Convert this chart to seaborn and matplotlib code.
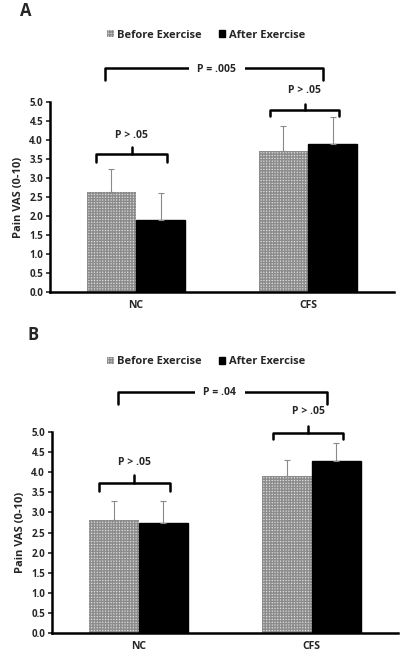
import matplotlib
matplotlib.use("Agg")
import matplotlib.pyplot as plt
import pandas as pd
import seaborn as sns

sns.set_style("white")
plt.rcParams['font.family'] = ['Open Sans', 'DejaVu Sans']
plt.rcParams['font.weight'] = 'bold'
plt.rcParams['hatch.linewidth'] = 1.0

groups = ['NC', 'CFS']
phases = ['Before Exercise', 'After Exercise']

# panel A
a_before = [2.62, 3.71]
a_after = [1.89, 3.89]
a_before_sd = [0.63, 0.67]
a_after_sd = [0.72, 0.71]

# panel B
b_before = [2.81, 3.91]
b_after = [2.73, 4.29]
b_before_sd = [0.47, 0.39]
b_after_sd = [0.55, 0.43]

a_p = ['P > .05', 'P > .05', 'P = .005']
b_p = ['P > .05', 'P > .05', 'P = .04']


def make_df(before, after):
    rows = []
    for g, v in zip(groups, before):
        rows.append({'group': g, 'phase': phases[0], 'vas': v})
    for g, v in zip(groups, after):
        rows.append({'group': g, 'phase': phases[1], 'vas': v})
    return pd.DataFrame(rows)


def bracket(ax, x0, x1, y, drop, notch=None, lw=1.8):
    ax.plot([x0, x0, x1, x1], [y - drop, y, y, y - drop], color='black',
            lw=lw, clip_on=False, solid_joinstyle='round')
    if notch is not None:
        xm = (x0 + x1) / 2
        ax.plot([xm, xm], [y, y + notch], color='black', lw=lw, clip_on=False)


def draw_panel(ax, before, after, bsd, asd, pvals, lay):
    df = make_df(before, after)
    sns.barplot(data=df, x='group', y='vas', hue='phase', order=groups,
                hue_order=phases, palette=['#b0b0b0', 'black'],
                width=0.57, gap=0, errorbar=None, legend=False, ax=ax,
                saturation=1)
    n = len(groups)
    for i, p in enumerate(ax.patches[:2 * n]):
        if i < n:
            p.set_facecolor('#dadada')
            p.set_hatch('++++++')
            p.set_edgecolor('#8c8c8c')
            p.set_linewidth(0)
            err = bsd[i]
        else:
            p.set_facecolor('black')
            p.set_edgecolor('black')
            err = asd[i - n]
        xc = p.get_x() + p.get_width() / 2
        ax.errorbar(xc, p.get_height(), yerr=[[0], [err]], color='#8a8a8a',
                    lw=0.8, capsize=2, capthick=0.8)

    ax.set_ylim(0, 5)
    ax.set_xlim(-0.5, 1.5)
    ax.set_yticks([i * 0.5 for i in range(11)])
    ax.set_yticklabels([f'{i * 0.5:.1f}' for i in range(11)], fontsize=7,
                       fontweight='bold')
    ax.set_xticks([0, 1])
    ax.set_xticklabels(groups, fontsize=7.5, fontweight='bold')
    ax.set_xticks([0.5, 1.5], minor=True)
    ax.tick_params(axis='x', which='major', length=0, pad=6)
    ax.tick_params(axis='x', which='minor', length=3, width=1.5, direction='out')
    ax.tick_params(axis='y', length=3, width=1.2, direction='out', pad=2, left=True)
    ax.set_xlabel('')
    ax.set_ylabel('Pain VAS (0-10)', fontsize=8, fontweight='bold', labelpad=4)
    for s in ['top', 'right']:
        ax.spines[s].set_visible(False)
    for s in ['left', 'bottom']:
        ax.spines[s].set_linewidth(1.8)
        ax.spines[s].set_color('black')

    # NC bracket
    bracket(ax, -0.23, 0.18, lay[0], 0.19, 0.2)
    ax.text(-0.025, lay[0] + 0.5, pvals[0], ha='center', va='center',
            fontsize=7.5, fontweight='bold')
    # CFS bracket
    bracket(ax, 0.78, 1.18, lay[1], 0.15, 0.17)
    ax.text(0.98, lay[1] + 0.52, pvals[1], ha='center', va='center',
            fontsize=7.5, fontweight='bold')
    # between groups
    bracket(ax, lay[3], 1.09, lay[2], 0.3)
    ax.text(0.47, lay[2] - 0.03, pvals[2], ha='center', va='center',
            fontsize=7.5, fontweight='bold',
            bbox=dict(facecolor='white', edgecolor='none', pad=6))


fig = plt.figure(figsize=(4.0, 6.54), dpi=100)
ax_a = fig.add_axes([0.125, 0.5535, 0.86, 0.2905])
ax_b = fig.add_axes([0.13, 0.032, 0.865, 0.3075])

draw_panel(ax_a, a_before, a_after, a_before_sd, a_after_sd, a_p,
           [3.62, 4.79, 5.89, -0.18])
draw_panel(ax_b, b_before, b_after, b_before_sd, b_after_sd, b_p,
           [3.73, 4.98, 6.0, -0.12])

fig.text(0.05, 0.997, 'A', fontsize=12, fontweight='bold', va='top')
fig.text(0.068, 0.502, 'B', fontsize=12, fontweight='bold', va='top')

for ax, ypos in [(ax_a, 0.946), (ax_b, 0.447)]:
    handles = [ax.patches[0], ax.patches[2]]
    fig.legend(handles, phases, loc='center', bbox_to_anchor=(0.515, ypos),
               ncol=2, frameon=False, handlelength=0.6, handleheight=0.6,
               handletextpad=0.3, columnspacing=1.5,
               prop={'size': 8, 'weight': 'bold'})

fig.savefig('out.png', dpi=100)
